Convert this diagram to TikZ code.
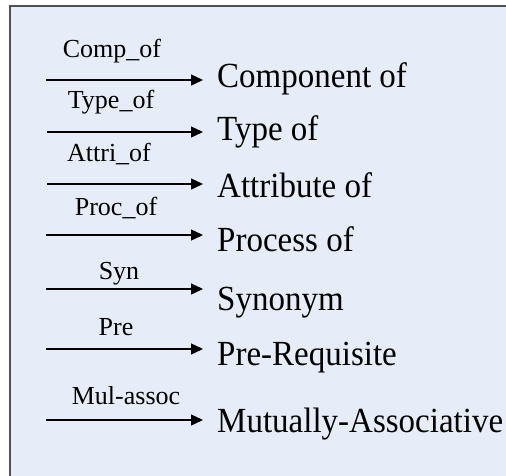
\documentclass[tikz,border=0pt]{standalone}
\usepackage{fontspec}
\usepackage{graphicx}
\setmainfont{Liberation Serif}
\usetikzlibrary{arrows.meta}
\definecolor{panelfill}{RGB}{231,237,248}
\definecolor{panelline}{RGB}{80,80,80}
\newcommand{\tallname}[1]{\scalebox{1}[1.07]{#1}}
\tikzset{
  panel/.style={fill=panelfill, draw=panelline, line width=1.5pt},
  lbl/.style={anchor=base, inner sep=0pt, font=\fontsize{26}{30}\selectfont},
  txt/.style={anchor=base west, inner ysep=0pt, inner xsep=14pt, font=\fontsize{33}{38}\selectfont},
  rel/.style={line width=1.4pt, -{Triangle[length=12pt,width=11pt]}}
}
\begin{document}
\begin{tikzpicture}[x=1pt, y=-1pt]
  \useasboundingbox (0,0) rectangle (506,475);
  \clip (0,0) rectangle (506,475);
  % legend panel running off the right and bottom edges
  \draw[panel] (10,6) rectangle (530,500);

  % arrow start points
  \coordinate (a1) at (46,80);
  \coordinate (a2) at (47,132);
  \coordinate (a3) at (47,184);
  \coordinate (a4) at (46,235);
  \coordinate (a5) at (46,289);
  \coordinate (a6) at (46,349);
  \coordinate (a7) at (46,420);

  % relation abbreviations
  \node[lbl] (l1) at (112,57)  {Comp\_of};
  \node[lbl] (l2) at (111,108) {Type\_of};
  \node[lbl] (l3) at (109,161) {Attri\_of};
  \node[lbl] (l4) at (116,215) {Proc\_of};
  \node[lbl] (l5) at (119,279) {Syn};
  \node[lbl] (l6) at (116,335) {Pre};
  \node[lbl] (l7) at (126,404) {Mul-assoc};

  % relation names
  \node[txt] (t1) at (203,87)  {\tallname{Component of}};
  \node[txt] (t2) at (203,140) {\tallname{Type of}};
  \node[txt] (t3) at (203,197) {\tallname{Attribute of}};
  \node[txt] (t4) at (203,251) {\tallname{Process of}};
  \node[txt] (t5) at (203,310) {\tallname{Synonym}};
  \node[txt] (t6) at (203,365) {\tallname{Pre-Requisite}};
  \node[txt] (t7) at (203,432) {\tallname{Mutually-Associative}};

  % arrows
  \foreach \i in {1,...,7}
    \draw[rel] (a\i) -- (a\i -| t\i.west);
\end{tikzpicture}
\end{document}
